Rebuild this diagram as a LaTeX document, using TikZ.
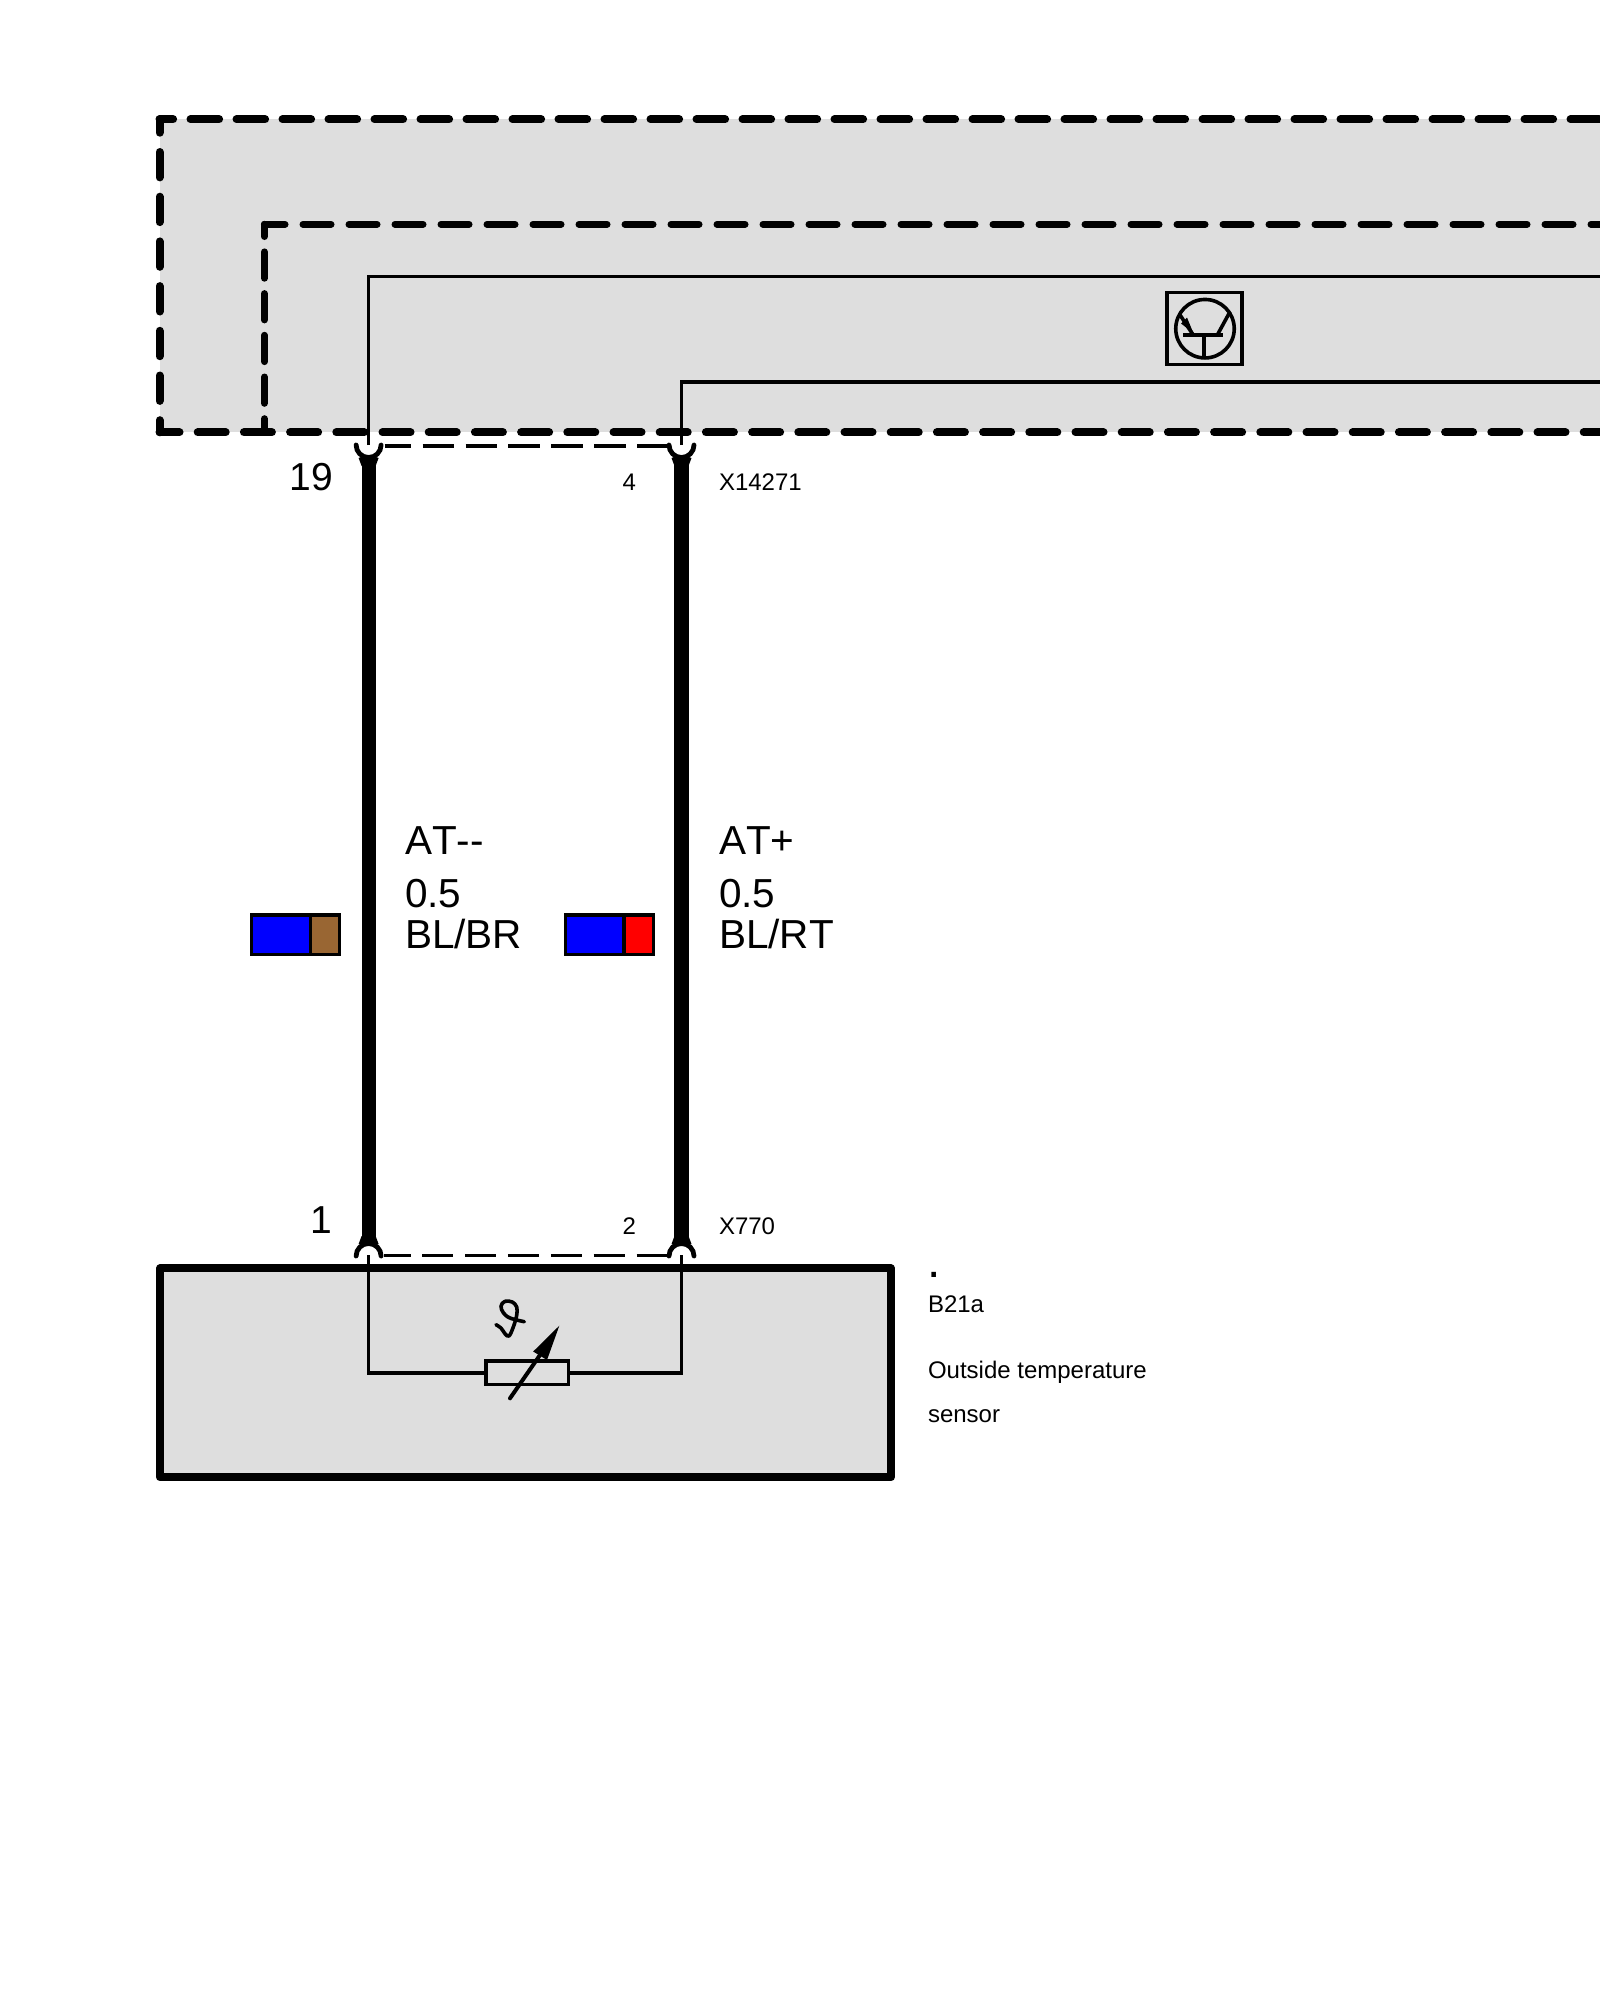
\documentclass[tikz,border=0pt]{standalone}
\usepackage{fontspec}
\setmainfont[Kerning=Off]{Liberation Sans}
\newcommand{\fsbig}{\fontsize{39}{39}\selectfont}
\newcommand{\fslabel}{\fontsize{40.5}{40.5}\selectfont}
\newcommand{\fssmall}{\fontsize{24}{24}\selectfont}
\newcommand{\fsdot}{\fontsize{48}{48}\selectfont}
\definecolor{panel}{HTML}{DEDEDE}
\definecolor{wireblue}{HTML}{0000FF}
\definecolor{wirebrown}{HTML}{996633}
\definecolor{wirered}{HTML}{FF0000}
\tikzset{
  x=1pt,y=-1pt,
  bigtext/.style={anchor=base west,inner sep=0pt,outer sep=0pt,font=\fsbig},
  labeltext/.style={anchor=base west,inner sep=0pt,outer sep=0pt,font=\fslabel},
  smalltext/.style={anchor=base west,inner sep=0pt,outer sep=0pt,font=\fssmall},
  hood/.style={line width=8pt,line cap=round},
  innerhood/.style={line width=7pt,line cap=round},
  thinwire/.style={line width=3.7pt,line cap=butt,line join=miter},
  thickwire/.style={line width=14.2pt},
  linkdash/.style={line width=3.4pt,dash pattern=on 31.3pt off 11.6pt,dash phase=4.8pt},
  symline/.style={line width=3.6pt},
  fork/.style={line width=4.8pt,line cap=round},
  swatch/.style={line width=3.6pt,draw=black,line join=miter},
}
\begin{document}
\begin{tikzpicture}
\useasboundingbox (0,0) rectangle (1600,2000);
\fill[white] (0,0) rectangle (1600,2000);
% control unit panel
\fill[panel] (159.5,119.3) rectangle (1600,432.3);
\coordinate (oc) at (159.5,119.3);
\coordinate (ob) at (159.5,432.3);
\coordinate (ic) at (264.4,224.3);
\coordinate (ib) at (264.4,432.3);
\coordinate (otr) at (1610,119.3);
\coordinate (obr) at (1610,432.3);
\coordinate (itr) at (1610,224.3);
\draw[hood,dash pattern=on 28.6pt off 17.4pt,dash phase=15pt] (oc) -- (otr);
\draw[hood,dash pattern=on 25.4pt off 19.3pt,dash phase=12pt] (oc) -- (ob);
\draw[hood,dash pattern=on 28pt off 18.2pt,dash phase=8pt] (ob) -- (obr);
\draw[innerhood,dash pattern=on 28pt off 18pt,dash phase=7.4pt] (ic) -- (itr);
\draw[innerhood,dash pattern=on 26.3pt off 15.4pt,dash phase=14.1pt] (ic) -- (ib);
% sensor box
\node[draw=black,fill=panel,line width=8pt,line join=round,minimum width=731pt,minimum height=209pt,inner sep=0pt,outer sep=0pt,anchor=north west] (sensor) at (160,1268.3) {};
% connection points
\coordinate (ptop1) at (368.6,445);
\coordinate (ptop2) at (681.5,445);
\coordinate (pbot1) at (368.6,1255);
\coordinate (pbot2) at (681.5,1255);
% internal wires
\draw[thinwire] (ptop1) -- (368.6,276.5) -- (1610,276.5);
\draw[thinwire] (ptop2) -- (681.5,381.7) -- (1610,381.7);
\node[draw=black,symline,fill=panel,minimum width=82.6pt,minimum height=23.3pt,inner sep=0pt,outer sep=0pt] (res) at (527,1372.7) {};
\draw[thinwire] (pbot1) -- (368.6,1372.7) -- (res.west);
\draw[thinwire] (pbot2) -- (681.5,1372.7) -- (res.east);
% variable resistor arrow
\coordinate (arstart) at (510,1398.3);
\coordinate (artip) at (559.3,1325.7);
\draw[line width=4pt,line cap=round] (arstart) -- (540,1355);
\fill (artip) -- (533.2,1351.5) -- (547,1360) -- cycle;
% theta
\draw[line width=3.6pt,line cap=round,line join=round]
  plot[smooth,tension=0.6] coordinates {(496,1324.7)(501,1328)(505,1333.7)(509,1336)(513.3,1327)(516.7,1315.3)(516.7,1307)(512.3,1302)(505,1301.3)(501,1306)(503.3,1312.7)(510,1318)(524.3,1321.7)};
% harness
\draw[thickwire] (ptop1 |- 0,460) -- (pbot1 |- 0,1245);
\draw[thickwire] (ptop2 |- 0,460) -- (pbot2 |- 0,1245);
\foreach \x in {368.6,681.5}{
  \draw[fork] (\x-12.5,445) arc[start angle=180,end angle=360,x radius=12.5pt,y radius=12.5pt];
  \fill (\x-7,466) -- (\x-10,458) -- (\x-5,456) -- (\x+5,456) -- (\x+10,458) -- (\x+7,466) -- cycle;
  \draw[fork] (\x-12.5,1256) arc[start angle=180,end angle=0,x radius=12.5pt,y radius=12.5pt];
  \fill (\x-7,1236) -- (\x-10,1244) -- (\x-5,1245.3) -- (\x+5,1245.3) -- (\x+10,1244) -- (\x+7,1236) -- cycle;
}
\coordinate (l1a) at (384.5,446);
\coordinate (l1b) at (668,446);
\coordinate (l2a) at (384,1255.7);
\coordinate (l2b) at (667.4,1255.7);
\draw[linkdash] (l1a) -- (l1b);
\draw[linkdash] (l2a) -- (l2b);
% transistor
\node[draw=black,symline,minimum width=75pt,minimum height=71.8pt,inner sep=0pt,outer sep=0pt] (tbox) at (1204.2,328.4) {};
\node[draw=black,symline,circle,minimum size=58.5pt,inner sep=0pt,outer sep=0pt] (tcirc) at (1205,328.7) {};
\draw[line width=4pt] (1183.3,335) -- (1223.3,335);
\draw[symline] (1204,335) -- (1204,359.3);
\draw[symline] (1217.3,335) -- (1230,311.7);
\draw[symline] (1180,315) -- (1193.3,335);
\fill (1187,317.5) -- (1193.3,333) -- (1181,323.5) -- cycle;
% wire colour swatches
\fill[wireblue] (251.5,914.8) rectangle (310.4,954.6);
\fill[wirebrown] (310.4,914.8) rectangle (339.3,954.6);
\draw[swatch] (251.5,914.8) rectangle (339.3,954.6);
\draw[swatch] (310.4,914.8) -- (310.4,954.6);
\fill[wireblue] (565.5,914.8) rectangle (624.2,954.6);
\fill[wirered] (624.2,914.8) rectangle (653.5,954.6);
\draw[swatch] (565.5,914.8) rectangle (653.5,954.6);
\draw[swatch] (624.2,914.8) -- (624.2,954.6);
% texts
\node[bigtext] (pin19) at (289.5,490) {19};
\node[smalltext] (pin4) at (622.5,490) {4};
\node[smalltext] (conn1) at (719,490) {X14271};
\node[bigtext] (pin1) at (310.5,1233.3) {1};
\node[smalltext] (pin2) at (622.5,1234) {2};
\node[smalltext] (conn2) at (719,1234) {X770};
\node[labeltext] (s1a) at (405,854.3) {AT{-}{-}};
\node[labeltext] (s1b) at (405,907.7) {0.5};
\node[labeltext] (s1c) at (405,948.3) {BL/BR};
\node[labeltext] (s2a) at (719,854.3) {AT+};
\node[labeltext] (s2b) at (719,907.7) {0.5};
\node[labeltext] (s2c) at (719,948.3) {BL/RT};
\node[anchor=base west,inner sep=0pt,outer sep=0pt,font=\fsdot] (dot) at (927.5,1277) {.};
\node[smalltext] (t1) at (928,1312.5) {B21a};
\node[smalltext] (t2) at (928,1378.3) {Outside temperature};
\node[smalltext] (t3) at (928,1422) {sensor};
\end{tikzpicture}
\end{document}
